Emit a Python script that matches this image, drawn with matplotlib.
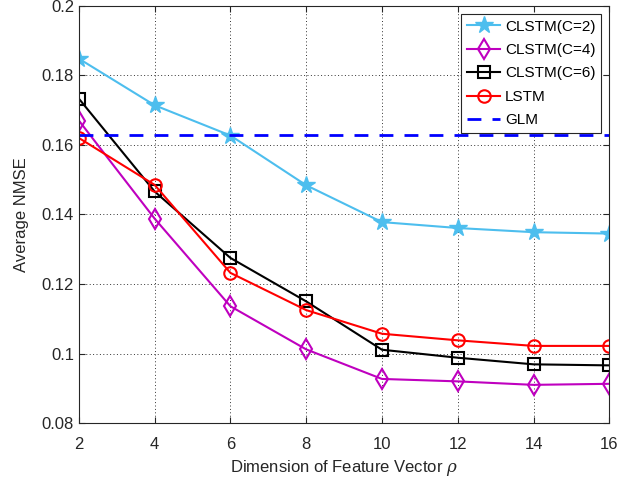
import matplotlib
matplotlib.use("Agg")
import matplotlib.pyplot as plt
from matplotlib.ticker import FuncFormatter

plt.rcParams["font.family"] = ["Liberation Sans", "DejaVu Sans"]
plt.rcParams["mathtext.fontset"] = "dejavuserif"

# data
rho = [2, 4, 6, 8, 10, 12, 14, 16]
clstm_c2 = [0.1848, 0.1714, 0.1627, 0.1484, 0.1378, 0.1361, 0.1349, 0.1345]
clstm_c4 = [0.1670, 0.1388, 0.1136, 0.1012, 0.0927, 0.0920, 0.0910, 0.0913]
clstm_c6 = [0.1733, 0.1466, 0.1275, 0.1150, 0.1011, 0.0988, 0.0969, 0.0966]
lstm = [0.1620, 0.1485, 0.1232, 0.1125, 0.1057, 0.1038, 0.1022, 0.1022]
glm = 0.1628

fig = plt.figure(figsize=(6.36, 4.83), dpi=100)
ax = fig.add_axes([0.124, 0.124, 0.834, 0.864])

ax.plot(rho, clstm_c2, color="#4DBEEE", marker="*", markersize=13, linewidth=1.5,
        markerfacecolor="#4DBEEE", label="CLSTM(C=2)")
ax.plot(rho, clstm_c4, color="#BF00BF", marker="d", markersize=10, linewidth=1.5,
        markerfacecolor="none", markeredgewidth=1.5, label="CLSTM(C=4)")
ax.plot(rho, clstm_c6, color="black", marker="s", markersize=8, linewidth=1.5,
        markerfacecolor="none", markeredgewidth=1.5, label="CLSTM(C=6)")
ax.plot(rho, lstm, color="red", marker="o", markersize=9, linewidth=1.5,
        markerfacecolor="none", markeredgewidth=1.5, label="LSTM")
ax.plot([rho[0], rho[-1]], [glm, glm], color="blue", linestyle=(0, (5, 4)), linewidth=2,
        label="GLM")

ax.set_xlim(2, 16)
ax.set_ylim(0.08, 0.2)
ax.set_xticks(rho)
ax.set_yticks([0.08, 0.1, 0.12, 0.14, 0.16, 0.18, 0.2])
ax.yaxis.set_major_formatter(FuncFormatter(lambda v, p: f"{v:g}"))
ax.tick_params(direction="in", labelsize=12, length=4, top=True, right=True, colors="#262626")
ax.tick_params(axis="x", pad=10)
ax.grid(True, color="black", linestyle=(0, (1, 2.5)), linewidth=0.7, alpha=0.8)
for s in ax.spines.values():
    s.set_linewidth(0.8)
    s.set_color("#262626")

ax.set_xlabel(r"Dimension of Feature Vector $\rho$", fontsize=12, color="#262626", labelpad=4)
ax.set_ylabel("Average NMSE", fontsize=12, color="#262626", labelpad=9)

leg = ax.legend(loc="upper right", fontsize=11, fancybox=False, framealpha=1,
                edgecolor="#262626", borderaxespad=0.55, handlelength=2.2,
                labelspacing=0.62, handletextpad=0.3, borderpad=0.35)
leg.get_frame().set_linewidth(0.8)

fig.savefig("out.png", dpi=100)
